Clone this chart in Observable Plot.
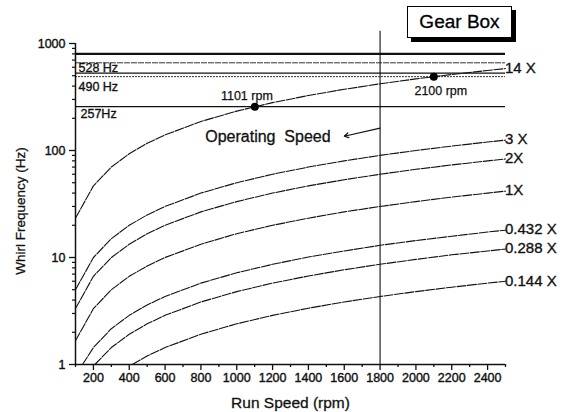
<!DOCTYPE html>
<html>
<head>
<meta charset="utf-8">
<script src="https://cdn.jsdelivr.net/npm/d3@7"></script>
<script src="https://cdn.jsdelivr.net/npm/@observablehq/plot@0.6"></script>
<style>
  body { margin: 0; background: white; }
  #wrap { position: relative; width: 571px; height: 412px; font-family: "Liberation Sans", Arial, sans-serif; }
  #gear { position: absolute; left: 407px; top: 6px; width: 103px; height: 30px; border: 1.5px solid #000;
          box-shadow: 4px 4px 0 #000; background: white; font-size: 19px; line-height: 30px; text-align: center; color: #000;
          -webkit-text-stroke: 0.3px #000; }
</style>
</head>
<body>
<div id="wrap"><div id="gear">Gear Box</div></div>
<script>
// Order lines (rpm vs whirl frequency in Hz)
const seriesLabels = ["14 X", "3 X", "2X", "1X", "0.432 X", "0.288 X", "0.144 X"];
const rpmFull = [100,200,300,400,500,600,800,1000,1200,1400,1600,1800,2000,2200,2400,2500];
const hz14 = [23.3,46.7,70,93.3,116.7,140,186.7,233.3,280,326.7,373.3,420,466.7,513.3,560,583.3];
const hz3  = [5,10,15,20,25,30,40,50,60,70,80,90,100,110,120,125];
const hz2  = [3.33,6.67,10,13.3,16.7,20,26.7,33.3,40,46.7,53.3,60,66.7,73.3,80,83.3];
const hz1  = [1.67,3.33,5,6.67,8.33,10,13.3,16.7,20,23.3,26.7,30,33.3,36.7,40,41.7];
const rpm432 = [139,200,300,400,500,600,800,1000,1200,1400,1600,1800,2000,2200,2400,2500];
const hz432  = [1,1.44,2.16,2.88,3.6,4.32,5.76,7.2,8.64,10.1,11.5,13,14.4,15.8,17.3,18];
const rpm288 = [208,300,400,500,600,800,1000,1200,1400,1600,1800,2000,2200,2400,2500];
const hz288  = [1,1.44,1.92,2.4,2.88,3.84,4.8,5.76,6.72,7.68,8.64,9.6,10.6,11.5,12];
const rpm144 = [417,500,600,800,1000,1200,1400,1600,1800,2000,2200,2400,2500];
const hz144  = [1,1.2,1.44,1.92,2.4,2.88,3.36,3.84,4.32,4.8,5.28,5.76,6];
const labelDy = [0, 2, 4, 2, 1, 1, -2];

// Gear box frequencies (horizontal lines)
const gearHz = [800, 660, 528, 490, 257];
const gearLabels = ["", "", "528 Hz", "490 Hz", "257Hz"];

// Marked crossings
const markRpm = [1101, 2100];
const markHz = [257, 490];
const markLabels = ["1101 rpm", "2100 rpm"];

// Operating speed
const operatingRpm = 1800;

// Ticks
const xMajor = [200,400,600,800,1000,1200,1400,1600,1800,2000,2200,2400];
const xMinor = [100,300,500,700,900,1100,1300,1500,1700,1900,2100,2300,2500];
const yMajor = [1, 10, 100, 1000];
const yMinor = [2,3,4,5,6,7,8,9,20,30,40,50,60,70,80,90,200,300,400,500,600,700,800,900];

const seriesRpm = [rpmFull, rpmFull, rpmFull, rpmFull, rpm432, rpm288, rpm144];
const seriesHz = [hz14, hz3, hz2, hz1, hz432, hz288, hz144];
const rows = seriesLabels.flatMap((lab, k) => seriesRpm[k].map((r, i) => ({label: lab, rpm: r, hz: seriesHz[k][i]})));
const ends = seriesLabels.map((lab, k) => ({label: lab, rpm: seriesRpm[k].at(-1), hz: seriesHz[k].at(-1), dy: labelDy[k]}));
const gearRows = gearHz.map((h, i) => ({hz: h, label: gearLabels[i], i}));
const marks = markRpm.map((r, i) => ({rpm: r, hz: markHz[i], label: markLabels[i]}));

const ink = "#111";
const heavy = {fill: ink, stroke: ink, strokeWidth: 0.35};
const chart = Plot.plot({
  width: 571, height: 412,
  marginLeft: 75, marginRight: 66, marginTop: 43, marginBottom: 48,
  style: {fontFamily: "'Liberation Sans', Arial, sans-serif", color: ink, background: "transparent", overflow: "visible"},
  x: {domain: [100, 2500]},
  y: {type: "log", domain: [1, 1000]},
  marks: [
    // gear frequency lines
    Plot.ruleY([gearRows[0]], {y: "hz", stroke: ink, strokeWidth: 2.2}),
    Plot.ruleY([gearRows[1]], {y: "hz", stroke: "#333", strokeWidth: 1, strokeDasharray: "6,1"}),
    Plot.ruleY([gearRows[2]], {y: "hz", stroke: ink, strokeWidth: 1.2}),
    Plot.ruleY([gearRows[3]], {y: "hz", stroke: "#333", strokeWidth: 1, strokeDasharray: "2,1"}),
    Plot.ruleY([gearRows[4]], {y: "hz", stroke: ink, strokeWidth: 1.1}),
    Plot.text([gearRows[2]], {x: 100, y: "hz", text: "label", textAnchor: "start", dx: 3, dy: -5, fontSize: 12.5, ...heavy}),
    Plot.text([gearRows[3]], {x: 100, y: "hz", text: "label", textAnchor: "start", dx: 3, dy: 10, fontSize: 12.5, ...heavy}),
    Plot.text([gearRows[4]], {x: 100, y: "hz", text: "label", textAnchor: "start", dx: 5, dy: 7, fontSize: 12.5, ...heavy}),
    // operating speed
    Plot.ruleX([operatingRpm], {y1: 1, y2: 1300, stroke: ink, strokeWidth: 1.1}),
    Plot.arrow([{x1: operatingRpm, y1: 162, x2: 1600, y2: 136}], {x1: "x1", y1: "y1", x2: "x2", y2: "y2", stroke: ink, strokeWidth: 1.2, headLength: 6}),
    Plot.text(["Operating  Speed"], {x: 1524, y: 133, text: d => d, textAnchor: "end", fontSize: 16, ...heavy, strokeWidth: 0.3, style: "white-space: pre"}),
    // order lines
    Plot.line(rows, {x: "rpm", y: "hz", z: "label", stroke: ink, strokeWidth: 1.1, strokeDasharray: "9,1.5"}),
    Plot.text(ends, {x: "rpm", y: "hz", text: "label", dx: 7, dy: "dy", textAnchor: "start", fontSize: 15, ...heavy}),
    // crossings
    Plot.dot(marks, {x: "rpm", y: "hz", r: 4, fill: "#000"}),
    Plot.text([marks[0]], {x: "rpm", y: "hz", text: "label", dx: -8, dy: -11, fontSize: 12.5, ...heavy, strokeWidth: 0.25}),
    Plot.text([marks[1]], {x: "rpm", y: "hz", text: "label", dx: 7, dy: 14, fontSize: 12.5, ...heavy, strokeWidth: 0.25}),
    // axes
    Plot.ruleX([100], {stroke: ink, strokeWidth: 1.5}),
    Plot.ruleY([1], {stroke: ink, strokeWidth: 1.5}),
    Plot.axisX(xMajor, {tickSize: 6, tickPadding: 3, tickFormat: d => String(d), label: null, fontSize: 12.5, stroke: ink, strokeWidth: 1.3, textStroke: ink, textStrokeWidth: 0.4}),
    Plot.axisX(xMinor, {tickSize: 3, tickFormat: () => "", label: null, stroke: ink, strokeWidth: 1.3}),
    Plot.axisY(yMajor, {tickSize: 6, tickPadding: 4, tickFormat: d => String(d), label: null, fontSize: 12.5, stroke: ink, strokeWidth: 1.3, textStroke: ink, textStrokeWidth: 0.4}),
    Plot.axisY(yMinor, {tickSize: 3, tickFormat: () => "", label: null, stroke: ink, strokeWidth: 1.2}),
    Plot.text(["Run Speed (rpm)"], {frameAnchor: "bottom", text: d => d, dy: 39, lineAnchor: "middle", textAnchor: "middle", fontSize: 15.5, ...heavy, strokeWidth: 0.3}),
    Plot.text(["Whirl Frequency (Hz)"], {frameAnchor: "left", text: d => d, rotate: -90, dx: -55, dy: 7, lineAnchor: "middle", textAnchor: "middle", fontSize: 13.5, ...heavy, strokeWidth: 0.3})
  ]
});
chart.style.position = "absolute";
chart.style.left = "0px";
chart.style.top = "0px";
document.getElementById("wrap").prepend(chart);
</script>
</body>
</html>
